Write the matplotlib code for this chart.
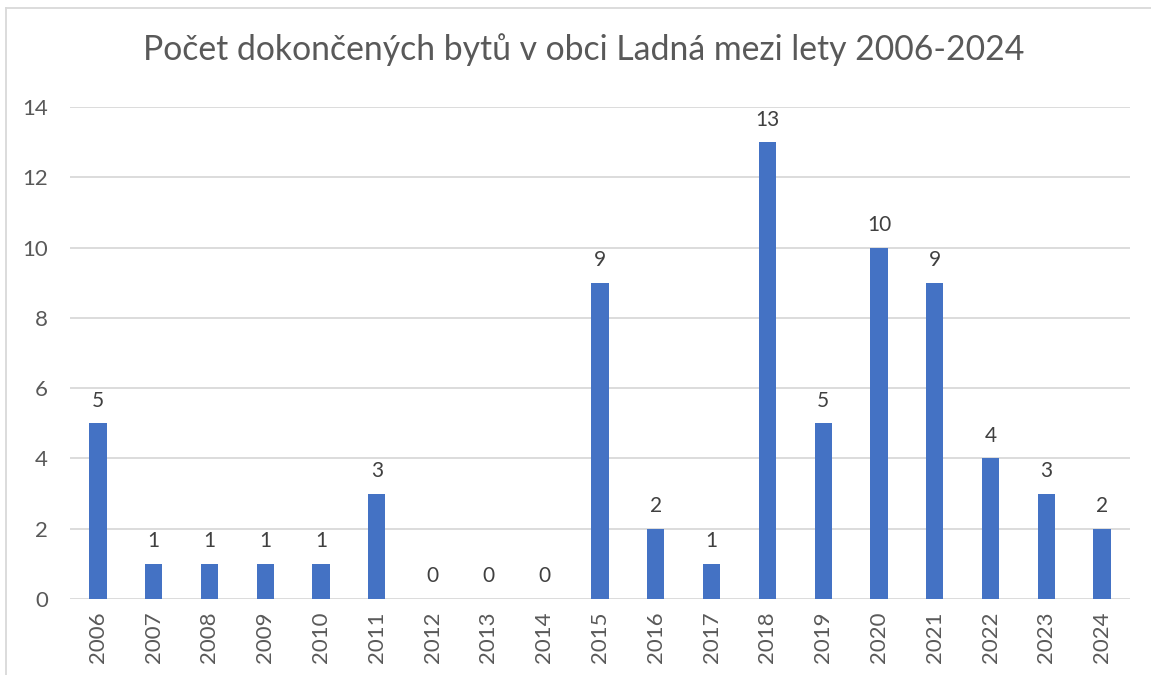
import matplotlib.pyplot as plt
from matplotlib.lines import Line2D
import numpy as np

years = [str(y) for y in range(2006, 2025)]
flats = [5, 1, 1, 1, 1, 3, 0, 0, 0, 9, 2, 1, 13, 5, 10, 9, 4, 3, 2]
title = "Počet dokončených bytů v obci Ladná mezi lety 2006-2024"

plt.rcParams['font.family'] = ['Lato', 'DejaVu Sans']

W, H = 1151, 675
fig = plt.figure(figsize=(W / 100, H / 100), dpi=100)
ax = fig.add_axes([70 / W, 1 - 599 / H, (1130 - 70) / W, (599 - 107) / H])

x = np.arange(len(years))
bars = ax.bar(x, flats, width=0.31, color='#4472C4', zorder=3)

# data labels above bars
for xi, v in zip(x, flats):
    ax.annotate(str(v), (xi, v), xytext=(0, 9), textcoords='offset points',
                ha='center', va='bottom', fontsize=15, color='#404040')

ax.set_xlim(-0.5, len(years) - 0.5)
ax.set_ylim(0, 14)
ax.set_yticks(range(0, 15, 2))
ax.set_xticks(x)
ax.set_xticklabels(years, rotation=90, fontsize=16, color='#595959')
ax.tick_params(axis='y', labelsize=16, labelcolor='#595959', length=0, pad=16)
ax.tick_params(axis='x', length=0, pad=9)
ax.grid(axis='y', color='#D9D9D9', linewidth=1.3, zorder=0)
for s in ax.spines.values():
    s.set_visible(False)

fig.text(584 / W, 1 - 50 / H, title, ha='center', va='center',
         fontsize=24.3, color='#595959')

# chart border (top and left edges visible)
fig.add_artist(Line2D([6 / W, 1], [1 - 7.5 / H] * 2, color='#D9D9D9', lw=1.3,
                      transform=fig.transFigure))
fig.add_artist(Line2D([6 / W] * 2, [0, 1 - 7.5 / H], color='#D9D9D9', lw=1.3,
                      transform=fig.transFigure))

plt.savefig("out.png", dpi=100)
